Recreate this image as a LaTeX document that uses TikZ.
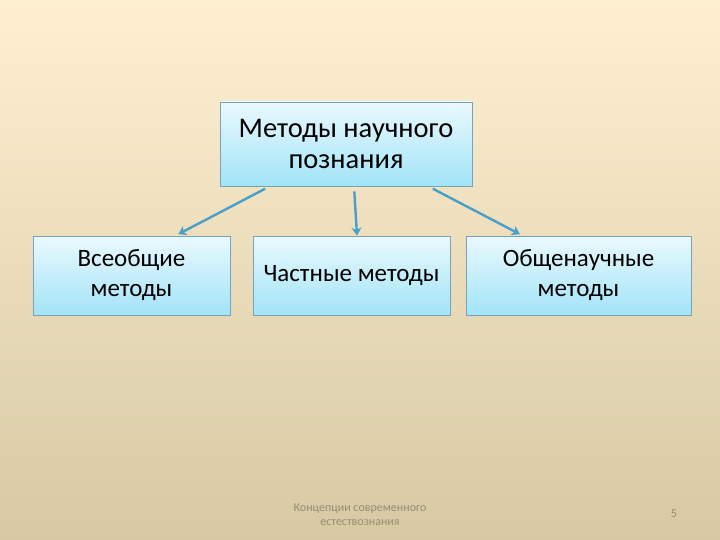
\documentclass[tikz,border=0pt]{standalone}
\usepackage{fontspec}
\setmainfont{Carlito}
\usepackage{tikz}
\usetikzlibrary{arrows,arrows.meta,shapes,positioning,calc}
\usepackage{xcolor}
\definecolor{bgtop}{RGB}{255,240,210}
\definecolor{bgmid}{RGB}{246,232,202}
\definecolor{bgbot}{RGB}{214,201,163}
\definecolor{boxtop}{RGB}{234,249,253}
\definecolor{boxbot}{RGB}{162,228,248}
\definecolor{boxline}{RGB}{118,164,190}
\definecolor{arrowblue}{RGB}{72,160,200}
\definecolor{footgray}{RGB}{150,140,118}
\tikzstyle{method} = [rectangle, draw=boxline, line width=0.8pt, top color=boxtop, bottom color=boxbot, align=center, text=black, font=\fontsize{25}{30}\selectfont]
\tikzstyle{arrow} = [line width=2.4pt,-{Stealth[length=8pt,width=10pt,inset=2.5pt]},color=arrowblue]
\tikzstyle{footer} = [text=footgray, align=center, font=\fontsize{12}{14}\selectfont]

\begin{document}
\begin{tikzpicture}[x=1pt, y=-1pt]
    % Background
    \shade[top color=bgtop, middle color=bgmid, bottom color=bgbot] (0,0) rectangle (720,540);
    \useasboundingbox (0,0) rectangle (720,540);

    % Root
    \node[method, minimum width=252pt, minimum height=84pt, font=\fontsize{28.5}{31}\selectfont] (root) at (346,144) {Методы научного\\познания};

    % Branches
    \node[method, minimum width=197pt, minimum height=79pt] (general) at (131.5,275.5) {Всеобщие\\методы};
    \node[method, minimum width=197pt, minimum height=79pt] (special) at (351.5,275.5) {Частные методы};
    \node[method, minimum width=225pt, minimum height=79pt] (science) at (578.5,275.5) {Общенаучные\\методы};

    % Arrows
    \draw[arrow, shorten <=5pt, shorten >=3pt] ([xshift=50pt]root.south west) -- ([xshift=143pt]general.north west);
    \draw[arrow, shorten <=5pt, shorten >=0pt] ([xshift=8pt]root.south) -- ([xshift=5.5pt]special.north);
    \draw[arrow, shorten <=5pt, shorten >=3pt] ([xshift=-44pt]root.south east) -- ([xshift=57pt]science.north west);

    % Footer
    \node[footer] (course) at (360,515) {Концепции современного\\естествознания};
    \node[footer] (page) at (674,514) {5};
\end{tikzpicture}
\end{document}
